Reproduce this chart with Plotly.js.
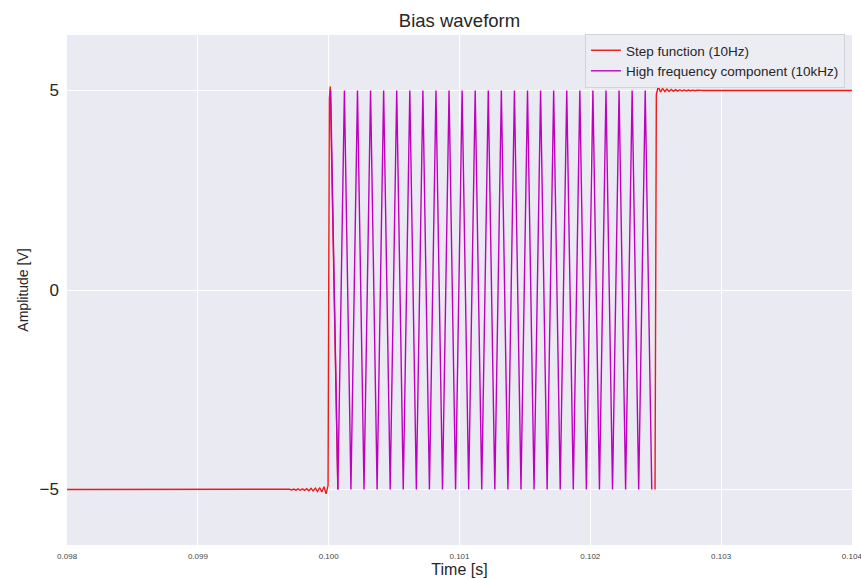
<!DOCTYPE html>
<html>
<head>
<meta charset="utf-8">
<script src="https://cdn.plot.ly/plotly-3.0.1.min.js"></script>
<style>
  html, body { margin: 0; padding: 0; background: #ffffff; }
  #chart { width: 861px; height: 579px; }
</style>
</head>
<body>
<div id="chart"></div>
<script>
// ---- Data ----
// Step function (10Hz): flat at -5, pre-ringing, edge at 0.1, combined section hidden, edge at 0.1025, post-ringing
const stepTime = [
  0.098, 0.0994, 0.099417, 0.099434, 0.09945, 0.099467, 0.099483, 0.0995, 0.099516, 0.099533,
  0.099549, 0.099566, 0.099583, 0.0996, 0.099617, 0.099634, 0.09965, 0.099667, 0.099683, 0.0997, 0.099716, 0.099733,
  0.099749, 0.099766, 0.099782, 0.099799, 0.099815, 0.099832, 0.099848, 0.099865, 0.099881,
  0.099898, 0.099914, 0.099931, 0.099947, 0.099964, 0.09998, 0.099995, 0.100005, 0.100012, 0.10007,
  null,
  0.102495, 0.102505, 0.10252, 0.102537, 0.102553, 0.10257, 0.102586, 0.102603, 0.102619, 0.102636,
  0.102652, 0.102669, 0.102685, 0.102702, 0.102718, 0.102735, 0.102751, 0.102768, 0.102784,
  0.102801, 0.102817, 0.102834, 0.10285, 0.102867, 0.104
];
const stepValue = [
  -5, -5, -5.002, -4.998, -5.002, -4.998, -5.002, -4.997, -5.003, -4.997,
  -5.003, -4.997, -5.003, -5.004, -5.004, -4.996, -5.005, -4.994, -5.008, -4.991, -5.011, -4.988,
  -5.014, -4.985, -5.018, -4.982, -5.022, -4.978, -5.028, -4.972, -5.035,
  -4.965, -5.045, -4.955, -5.06, -4.93, -5.11, -4.9, 4.8, 5.1, -5,
  null,
  -5, 4.9, 5.1, 4.96, 5.05, 4.97, 5.035, 4.975, 5.028, 4.98,
  5.022, 4.984, 5.018, 4.987, 5.014, 4.99, 5.011, 4.992, 5.008,
  4.994, 5.005, 4.996, 5.003, 5, 5
];

// High frequency component (10kHz): peaks and troughs between 0.1 and 0.1025
const hfTime = [
  0.100015, 0.10007, 0.10012, 0.10017, 0.10022, 0.10027, 0.10032, 0.10037, 0.10042, 0.10047,
  0.10052, 0.10057, 0.10062, 0.10067, 0.10072, 0.10077, 0.10082, 0.10087, 0.10092, 0.10097,
  0.10102, 0.10107, 0.10112, 0.10117, 0.10122, 0.10127, 0.10132, 0.10137, 0.10142, 0.10147,
  0.10152, 0.10157, 0.10162, 0.10167, 0.10172, 0.10177, 0.10182, 0.10187, 0.10192, 0.10197,
  0.10202, 0.10207, 0.10212, 0.10217, 0.10222, 0.10227, 0.10232, 0.10237, 0.10242, 0.10247
];
const hfValue = [
  5, -5, 5, -5, 5, -5, 5, -5, 5, -5,
  5, -5, 5, -5, 5, -5, 5, -5, 5, -5,
  5, -5, 5, -5, 5, -5, 5, -5, 5, -5,
  5, -5, 5, -5, 5, -5, 5, -5, 5, -5,
  5, -5, 5, -5, 5, -5, 5, -5, 5, -5
];

const xTicks = [0.098, 0.099, 0.100, 0.101, 0.102, 0.103, 0.104];
const xTickLabels = ['0.098', '0.099', '0.100', '0.101', '0.102', '0.103', '0.104'];
const yTicks = [-5, 0, 5];
const yTickLabels = ['\u22125', '0', '5'];

const FONT = 'Liberation Sans, Arial, sans-serif';

const traces = [
  {
    x: stepTime, y: stepValue, type: 'scatter', mode: 'lines',
    name: 'Step function (10Hz)',
    line: { color: '#f01818', width: 1.4 },
    connectgaps: false
  },
  {
    x: hfTime, y: hfValue, type: 'scatter', mode: 'lines',
    name: 'High frequency component (10kHz)',
    line: { color: '#bf00bf', width: 1.4 }
  }
];

const layout = {
  width: 861, height: 579,
  margin: { l: 67, r: 9, t: 35, b: 34 },
  paper_bgcolor: '#ffffff',
  plot_bgcolor: '#eaeaf2',
  font: { family: FONT, color: '#262626' },
  title: {
    text: 'Bias waveform',
    font: { family: FONT, size: 18.5, color: '#262626' },
    x: 0.5, xref: 'paper', xanchor: 'center',
    y: 1, yref: 'paper', yanchor: 'bottom', pad: { b: 8 }
  },
  xaxis: {
    range: [0.097999, 0.104001],
    tickvals: xTicks, ticktext: xTickLabels,
    tickfont: { family: FONT, size: 8, color: '#444444' },
    ticks: '', ticklabelstandoff: 5, ticklabeloverflow: 'allow',
    showgrid: true, gridcolor: '#ffffff', gridwidth: 1,
    zeroline: false, showline: false,
    title: { text: 'Time [s]', font: { family: FONT, size: 16, color: '#262626' }, standoff: 3 }
  },
  yaxis: {
    range: [-6.39, 6.39],
    tickvals: yTicks, ticktext: yTickLabels,
    tickfont: { family: FONT, size: 17, color: '#262626' },
    ticks: '', ticklabelstandoff: 7,
    showgrid: true, gridcolor: '#ffffff', gridwidth: 1,
    zeroline: false, showline: false,
    title: { text: 'Amplitude [V]', font: { family: FONT, size: 14, color: '#262626' }, standoff: 7 }
  },
  legend: {
    x: 0.991, xanchor: 'right', xref: 'paper',
    y: 1.002, yanchor: 'top', yref: 'paper',
    bgcolor: 'rgba(236,236,243,0.9)',
    bordercolor: '#d2d2da', borderwidth: 1,
    font: { family: FONT, size: 13.5, color: '#262626' },
    itemwidth: 30
  },
  showlegend: true
};

Plotly.newPlot('chart', traces, layout, { staticPlot: true, displayModeBar: false });
</script>
</body>
</html>
